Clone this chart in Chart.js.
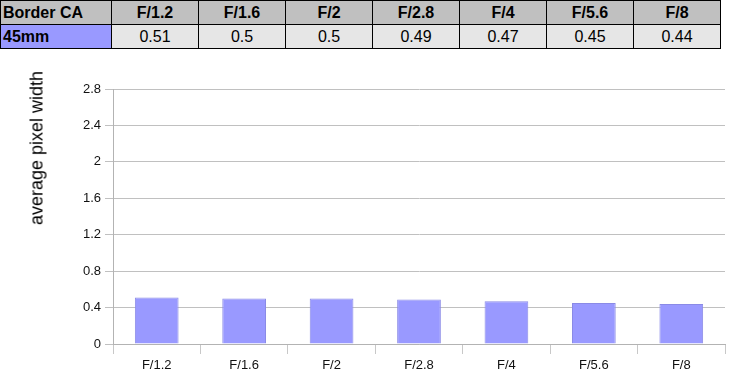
<!DOCTYPE html>
<html>
<head>
<meta charset="utf-8">
<script src="https://cdn.jsdelivr.net/npm/chart.js@4/dist/chart.umd.min.js"></script>
<style>
  body { margin: 0; background: #fff; font-family: "Liberation Sans", Arial, sans-serif; }
  #tbl { position: absolute; left: 0; top: 0; border-collapse: collapse; }
  #tbl td { border: 1px solid #000; height: 23px; padding: 0 2px; font-size: 16px; text-align: center; background: #e6e6e6; width: 82px; }
  #tbl tr.head td { background: #c0c0c0; font-weight: bold; }
  #tbl td.first { text-align: left; width: 106px; }
  #tbl tr.row td.first { background: #9999ff; font-weight: bold; }
  #wrap { position: absolute; left: 0; top: 55px; width: 730px; height: 332px; }
  #ytitle { position: absolute; left: 37px; top: 148px; transform: translate(-50%, -50%) rotate(-90deg);
            white-space: nowrap; font-size: 18px; color: #000; }
</style>
</head>
<body>
<table id="tbl">
  <tr class="head" id="headRow"><td class="first">Border CA</td></tr>
  <tr class="row" id="valRow"><td class="first">45mm</td></tr>
</table>
<div id="wrap"><canvas id="barChart"></canvas></div>
<div id="ytitle">average pixel width</div>
<script>
"use strict";

var apertures = ['F/1.2', 'F/1.6', 'F/2', 'F/2.8', 'F/4', 'F/5.6', 'F/8'];
var borderCA = [0.51, 0.5, 0.5, 0.49, 0.47, 0.45, 0.44];
var yTicks = [0, 0.4, 0.8, 1.2, 1.6, 2, 2.4, 2.8];

// fill the table above the chart
apertures.forEach(function (a, i) {
    var h = document.createElement('td');
    h.textContent = a;
    document.getElementById('headRow').appendChild(h);
    var v = document.createElement('td');
    v.textContent = borderCA[i];
    document.getElementById('valRow').appendChild(v);
});

var ctx_bar = document.getElementById('barChart').getContext('2d');
Chart.defaults.font.family = '"Liberation Sans", Arial, sans-serif';
Chart.defaults.color = '#222';

var myBarChart = new Chart(ctx_bar, {
    type: 'bar',
    data: {
        labels: apertures,
        datasets: [{
            label: '45mm',
            data: borderCA,
            backgroundColor: '#9999ff',
            borderColor: '#8a8ae6',
            borderWidth: 1,
            categoryPercentage: 1,
            barPercentage: 0.5
        }]
    },
    options: {
        responsive: true,
        maintainAspectRatio: false,
        animation: false,
        layout: { padding: { left: 25, right: 5, top: 34, bottom: 0 } },
        plugins: { legend: { display: false }, tooltip: { enabled: false } },
        scales: {
            x: {
                grid: { drawOnChartArea: false, color: '#c8c8c8', tickLength: 10 },
                border: { color: '#b3b3b3' },
                ticks: { font: { size: 13 }, padding: 4, color: '#111' },
                afterFit: function (s) { s.height = 43; }
            },
            y: {
                min: 0,
                max: 2.8,
                afterBuildTicks: function (s) { s.ticks = yTicks.map(function (v) { return { value: v }; }); },
                grid: { color: '#c0c0c0', tickLength: 8 },
                border: { color: '#b3b3b3' },
                ticks: { font: { size: 13 }, padding: 4, color: '#111',
                         callback: function (v) { return String(v); } },
                afterFit: function (s) { s.width = 88; }
            }
        }
    }
});
</script>
</body>
</html>
